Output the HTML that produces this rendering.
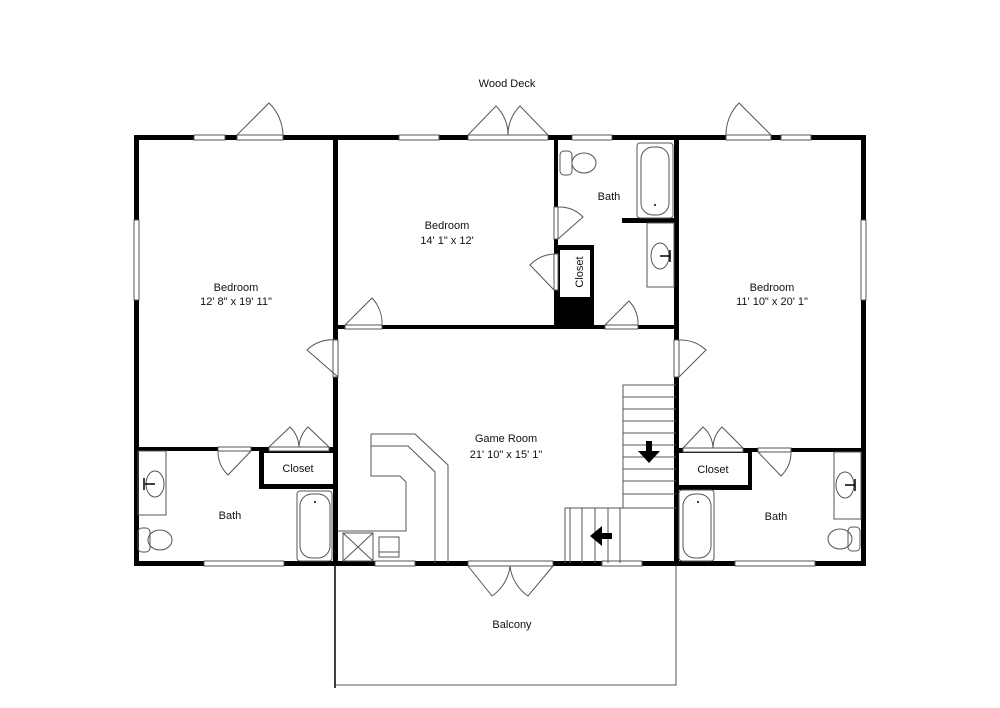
<!DOCTYPE html>
<html><head><meta charset="utf-8"><style>
html,body{margin:0;padding:0;background:#fff}
svg{display:block}
text{font-family:"Liberation Sans",Arial,sans-serif;font-size:11px;fill:#111;text-anchor:middle}
.t{fill:none;stroke:#555;stroke-width:1}
.w{fill:#000}
.win{fill:#fff;stroke:#555;stroke-width:1}
</style></head><body>
<svg width="1000" height="708" viewBox="0 0 1000 708" xmlns="http://www.w3.org/2000/svg">
<rect width="1000" height="708" fill="#fff"/>
<!-- balcony -->
<rect x="335" y="565" width="341" height="120" class="t" stroke="#333"/>
<line x1="335" y1="565" x2="335" y2="688" stroke="#000" stroke-width="1.5"/>
<!-- exterior walls -->
<rect class="w" x="134" y="135" width="732" height="5"/>
<rect class="w" x="134" y="561" width="732" height="5"/>
<rect class="w" x="134" y="135" width="5" height="431"/>
<rect class="w" x="861" y="135" width="5" height="431"/>
<!-- interior walls -->
<rect class="w" x="333" y="137" width="5" height="429"/>
<rect class="w" x="674" y="137" width="5" height="429"/>
<rect class="w" x="335" y="325" width="342" height="4"/>
<rect class="w" x="554" y="137" width="4" height="190"/>
<rect class="w" x="622" y="218" width="54" height="5"/>
<rect class="w" x="556" y="245" width="38" height="82"/>
<rect x="560" y="250" width="30" height="47" fill="#fff"/>
<rect class="w" x="136" y="447" width="199" height="4"/>
<rect class="w" x="259" y="449" width="76" height="40"/>
<rect x="264" y="453" width="69" height="31" fill="#fff"/>
<rect class="w" x="676" y="448" width="188" height="4"/>
<rect class="w" x="676" y="450" width="76" height="40"/>
<rect x="679" y="453" width="69" height="32" fill="#fff"/>
<!-- windows/openings top -->
<rect class="win" x="194" y="135" width="31" height="5"/>
<rect class="win" x="237" y="135" width="46" height="5"/>
<rect class="win" x="399" y="135" width="40" height="5"/>
<rect class="win" x="468" y="135" width="80" height="5"/>
<rect class="win" x="572" y="135" width="40" height="5"/>
<rect class="win" x="726" y="135" width="45" height="5"/>
<rect class="win" x="781" y="135" width="30" height="5"/>
<!-- side windows -->
<rect class="win" x="134" y="220" width="5" height="80"/>
<rect class="win" x="861" y="220" width="5" height="80"/>
<!-- bottom openings -->
<rect class="win" x="204" y="561" width="80" height="5"/>
<rect class="win" x="375" y="561" width="40" height="5"/>
<rect class="win" x="468" y="561" width="85" height="5"/>
<rect class="win" x="602" y="561" width="40" height="5"/>
<rect class="win" x="735" y="561" width="80" height="5"/>
<!-- interior door openings -->
<rect class="win" x="345" y="325" width="37" height="4"/>
<rect class="win" x="605" y="325" width="33" height="4"/>
<rect class="win" x="333" y="340" width="5" height="37"/>
<rect class="win" x="674" y="340" width="5" height="37"/>
<rect class="win" x="554" y="207" width="4" height="32"/>
<rect class="win" x="554" y="254" width="4" height="36"/>
<rect class="win" x="218" y="447" width="33" height="4"/>
<rect class="win" x="269" y="447" width="60" height="4"/>
<rect class="win" x="683" y="448" width="60" height="4"/>
<rect class="win" x="758" y="448" width="33" height="4"/>
<!-- door swings -->
<g class="t">
<path d="M237 135 L269 103 A46 46 0 0 1 283 135"/>
<path d="M468 135 L496 106 A40 40 0 0 1 508 135 M548 135 L520 106 A40 40 0 0 0 508 135"/>
<path d="M726 135 A45 45 0 0 1 739 103 L771 135"/>
<path d="M345 325 L372 298 A37 37 0 0 1 382 325"/>
<path d="M605 325 L629 301 A33 33 0 0 1 638 325"/>
<path d="M338 340 A37 37 0 0 0 307 350 L338 377"/>
<path d="M679 340 A37 37 0 0 1 706 350 L679 377"/>
<path d="M558 207 A32 32 0 0 1 583 217 L558 239"/>
<path d="M554 254 A36 36 0 0 0 530 265 L554 290"/>
<path d="M218 451 A33 33 0 0 0 228 475 L251 451"/>
<path d="M269 447 L290 427 A30 30 0 0 1 299 447 M329 447 L308 427 A30 30 0 0 0 299 447"/>
<path d="M683 448 L703 427 A30 30 0 0 1 713 448 M743 448 L722 427 A30 30 0 0 0 713 448"/>
<path d="M791 452 A33 33 0 0 1 781 476 L758 452"/>
<path d="M468 566 L492 596 A42 42 0 0 0 510 566 M553 566 L528 596 A42 42 0 0 1 510 566"/>
</g>
<!-- top bath fixtures -->
<g class="t">
<rect x="637" y="143" width="36" height="75" rx="3"/>
<rect x="641" y="147" width="28" height="68" rx="12"/>
<rect x="560" y="151" width="12" height="24" rx="4"/>
<ellipse cx="584" cy="163" rx="12" ry="10"/>
<rect x="647" y="223" width="27" height="64"/>
<ellipse cx="660" cy="256" rx="9" ry="13"/>
</g>
<circle cx="655" cy="205" r="1" fill="#000"/>
<path d="M660 256 h10 M670 250 v12" stroke="#000" stroke-width="1.5"/>
<!-- left bath fixtures -->
<g class="t">
<rect x="297" y="491" width="35" height="70" rx="3"/>
<rect x="300" y="494" width="30" height="64" rx="12"/>
<rect x="138" y="451" width="28" height="64"/>
<ellipse cx="155" cy="484" rx="9" ry="13"/>
<rect x="138" y="528" width="12" height="24" rx="4"/>
<ellipse cx="160" cy="540" rx="12" ry="10"/>
</g>
<circle cx="315" cy="502" r="1" fill="#000"/>
<path d="M155 484 h-10 M144 478 v12" stroke="#000" stroke-width="1.5"/>
<!-- right bath fixtures -->
<g class="t">
<rect x="679" y="490" width="35" height="71" rx="3"/>
<rect x="683" y="494" width="28" height="64" rx="12"/>
<rect x="834" y="452" width="27" height="67"/>
<ellipse cx="845" cy="485" rx="9" ry="13"/>
<rect x="848" y="527" width="12" height="24" rx="4"/>
<ellipse cx="840" cy="539" rx="12" ry="10"/>
</g>
<circle cx="698" cy="502" r="1" fill="#000"/>
<path d="M845 485 h10 M855 479 v12" stroke="#000" stroke-width="1.5"/>
<!-- bar -->
<g class="t">
<path d="M371 434 H415 L448 465 V563"/>
<path d="M371 434 V476 H400 L406 482 V531 H338"/>
<path d="M371 446 H408 L435 472 V563"/>
<rect x="343" y="533" width="30" height="28"/>
<path d="M343 533 L373 561 M373 533 L343 561"/>
<rect x="379" y="537" width="20" height="20"/>
<line x1="379" y1="552" x2="399" y2="552"/>
</g>
<!-- stairs -->
<g class="t">
<path d="M676 385 H623 V508 H565 V563"/>
<path d="M623 397h53 M623 409h53 M623 421h53 M623 433h53 M623 445h53 M623 457h53 M623 469h53 M623 481h53 M623 494h53 M623 508h53"/>
<path d="M570 508v55 M582 508v55 M595 508v55 M608 508v55 M620 508v55"/>
</g>
<path d="M646 441 h6 v10 h8 l-11 12 l-11 -12 h8 z" fill="#000"/>
<path d="M612 533 v6 h-10 v7 l-12 -10 l12 -10 v7 z" fill="#000"/>
<!-- labels -->
<text x="507" y="87">Wood Deck</text>
<text x="236" y="291">Bedroom</text>
<text x="236" y="305">12' 8" x 19' 11"</text>
<text x="447" y="229">Bedroom</text>
<text x="447" y="244">14' 1" x 12'</text>
<text x="609" y="200">Bath</text>
<text x="579" y="272" transform="rotate(-90 579 272)" dy="4">Closet</text>
<text x="772" y="291">Bedroom</text>
<text x="772" y="305">11' 10" x 20' 1"</text>
<text x="506" y="442">Game Room</text>
<text x="506" y="458">21' 10" x 15' 1"</text>
<text x="298" y="472">Closet</text>
<text x="230" y="519">Bath</text>
<text x="713" y="473">Closet</text>
<text x="776" y="520">Bath</text>
<text x="512" y="628">Balcony</text>
</svg>
</body></html>
